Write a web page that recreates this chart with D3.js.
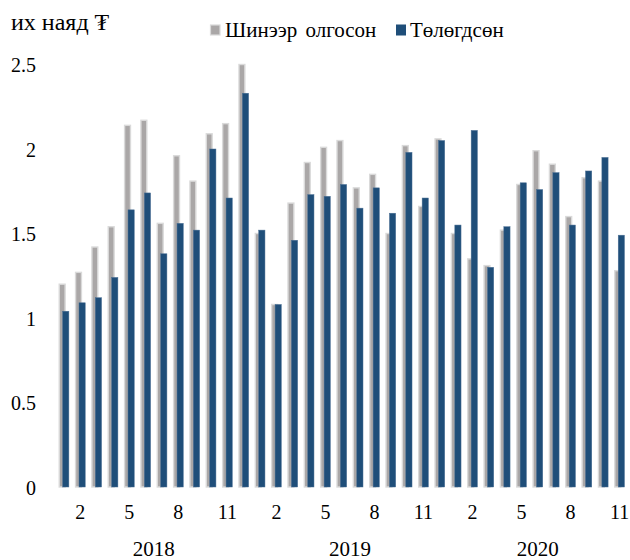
<!DOCTYPE html>
<html>
<head>
<meta charset="utf-8">
<script src="https://cdn.jsdelivr.net/npm/d3@7"></script>
<style>
  html, body { margin: 0; padding: 0; background: #fff; }
  svg { display: block; }
  text { font-family: "Liberation Serif", "Times New Roman", "DejaVu Serif", serif; fill: #000; }
</style>
</head>
<body>
<svg id="chart" width="630" height="560"></svg>
<script>
// Monthly loans, trillion ₮, Jan 2018 – Nov 2020
const years = ["2018", "2019", "2020"];
const monthsPerYear = [12, 12, 11];
const issued = [
  1.20, 1.27, 1.42, 1.54, 2.14, 2.17, 1.56, 1.96, 1.81, 2.09, 2.15, 2.50,
  1.50, 1.08, 1.68, 1.92, 2.01, 2.05, 1.77, 1.85, 1.50, 2.02, 1.66, 2.06,
  1.50, 1.35, 1.31, 1.52, 1.79, 1.99, 1.91, 1.60, 1.83, 1.81, 1.28
];
const repaid = [
  1.04, 1.09, 1.12, 1.24, 1.64, 1.74, 1.38, 1.56, 1.52, 2.00, 1.71, 2.33,
  1.52, 1.08, 1.46, 1.73, 1.72, 1.79, 1.65, 1.77, 1.62, 1.98, 1.71, 2.05,
  1.55, 2.11, 1.30, 1.54, 1.80, 1.76, 1.86, 1.55, 1.87, 1.95, 1.49
];
const yTicks = [0, 0.5, 1, 1.5, 2, 2.5];
const monthTickLabels = [2, 5, 8, 11];
const seriesNames = ["Шинээр олгосон", "Төлөгдсөн"];

const colors = { issued: "#aaa7a7", issuedRim: "#dadada", repaid: "#1f4e79", repaidRim: "#4a6f93" };

// Build month records: {key, year, month}
const months = [];
years.forEach((yr, i) => {
  for (let m = 1; m <= monthsPerYear[i]; m++) months.push({ key: yr + "-" + m, year: yr, month: m });
});
const rows = months.map((d, i) => ({ ...d, issued: issued[i], repaid: repaid[i] }));

const svg = d3.select("#chart");
const baseY = 487, topY = 64.5;

const x = d3.scaleBand().domain(months.map(d => d.key)).range([55.8, 627.7]).paddingInner(0).paddingOuter(0);
const y = d3.scaleLinear().domain([0, 2.5]).range([baseY, topY]);
const bw = x.bandwidth();

// Title
svg.append("text").attr("x", 11).attr("y", 30).style("font-size", "24px").text("их наяд ₮");

// Legend
const legend = svg.append("g");
legend.append("rect").attr("x", 210.5).attr("y", 25).attr("width", 9.5).attr("height", 10)
  .attr("fill", colors.issued).attr("stroke", colors.issuedRim).attr("stroke-width", 1.2);
legend.append("text").attr("x", 225).attr("y", 37).style("font-size", "21px")
  .style("word-spacing", "3px").text(seriesNames[0]);
legend.append("rect").attr("x", 396).attr("y", 24.5).attr("width", 10).attr("height", 11)
  .attr("fill", colors.repaid);
legend.append("text").attr("x", 410).attr("y", 37).style("font-size", "21px").text(seriesNames[1]);

// Y axis labels (no line, no ticks)
const yAxis = d3.axisLeft(y).tickValues(yTicks).tickSize(0).tickPadding(0).tickFormat(d3.format("~g"));
const yg = svg.append("g").attr("transform", "translate(36,0)").call(yAxis);
yg.select(".domain").remove();
yg.selectAll("text").style("font-size", "20px").style("font-family", null).attr("dy", "0.35em");

// Bars: newly issued (behind), repaid (in front)
svg.append("g").selectAll("rect").data(rows).join("rect")
  .attr("x", d => x(d.key) + bw * 0.21)
  .attr("y", d => y(d.issued))
  .attr("width", bw * 0.36)
  .attr("height", d => y(0) - y(d.issued))
  .attr("fill", colors.issued)
  .attr("stroke", colors.issuedRim)
  .attr("stroke-width", 1.4);

svg.append("g").selectAll("rect").data(rows).join("rect")
  .attr("x", d => x(d.key) + bw * 0.42)
  .attr("y", d => y(d.repaid))
  .attr("width", bw * 0.38)
  .attr("height", d => y(0) - y(d.repaid))
  .attr("fill", colors.repaid)
  .attr("stroke", colors.repaidRim)
  .attr("stroke-width", 0.5);

// X axis: month labels and year labels
const xAxis = d3.axisBottom(x).tickSize(0).tickPadding(0)
  .tickValues(months.filter(d => monthTickLabels.includes(d.month)).map(d => d.key))
  .tickFormat(k => k.split("-")[1]);
const xg = svg.append("g").attr("transform", "translate(0,519)").call(xAxis);
xg.select(".domain").remove();
xg.selectAll("text").style("font-size", "20px").style("font-family", null).attr("dy", "0");

years.forEach(yr => {
  const ms = months.filter(d => d.year === yr);
  const cx = (x(ms[0].key) + x(ms[ms.length - 1].key) + bw) / 2;
  svg.append("text").attr("x", cx).attr("y", 556).attr("text-anchor", "middle")
    .style("font-size", "21px").text(yr);
});
</script>
</body>
</html>
